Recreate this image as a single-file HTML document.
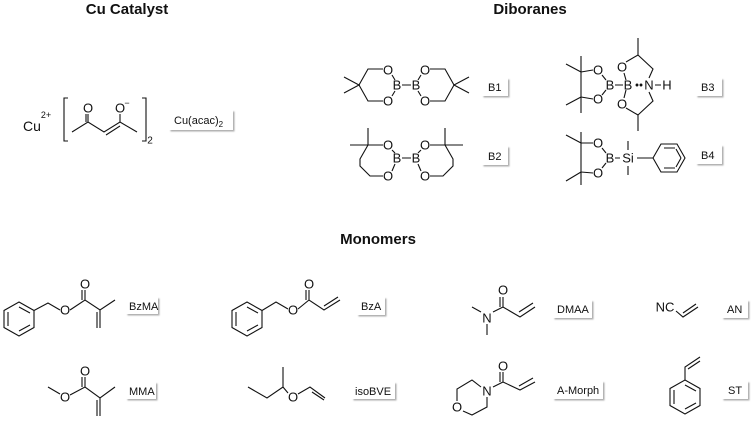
<!DOCTYPE html>
<html><head><meta charset="utf-8"><style>
html,body{margin:0;padding:0;background:#fff;}
svg{display:block;}
text{font-family:"Liberation Sans",sans-serif;fill:#111;}
.t{font-weight:bold;font-size:15px;}
.a{font-size:13px;text-anchor:middle;dominant-baseline:central;}
.l{font-size:11px;fill:#333;}
</style></head><body>
<svg width="755" height="423" viewBox="0 0 755 423" xmlns="http://www.w3.org/2000/svg">
<defs><filter id="sh" x="-10%" y="-10%" width="130%" height="140%"><feDropShadow dx="1.5" dy="1.5" stdDeviation="0.8" flood-color="#999" flood-opacity="0.8"/></filter></defs>
<text class="t" x="127" y="14" text-anchor="middle">Cu Catalyst</text>
<line x1="60" y1="24" x2="195" y2="24" stroke="#666" stroke-width="1.5" filter="url(#sh)"/>
<text class="t" x="530" y="14" text-anchor="middle">Diboranes</text>
<line x1="425" y1="23" x2="636" y2="23" stroke="#666" stroke-width="1.5" filter="url(#sh)"/>
<text class="t" x="378" y="244" text-anchor="middle">Monomers</text>
<line x1="187" y1="253" x2="561" y2="253" stroke="#666" stroke-width="1.5" filter="url(#sh)"/>

<g fill="#fff" filter="url(#sh)">
<rect x="169" y="110" width="64" height="20"/>
<rect x="482" y="78" width="26" height="18"/>
<rect x="482" y="146" width="26" height="19"/>
<rect x="696" y="78" width="26" height="18"/>
<rect x="696" y="145" width="26" height="19"/>
<rect x="126" y="297" width="32" height="17"/>
<rect x="357" y="297" width="28" height="18"/>
<rect x="553" y="300" width="39" height="18"/>
<rect x="722" y="300" width="26" height="18"/>
<rect x="126" y="382" width="30" height="17"/>
<rect x="352" y="382" width="43" height="17"/>
<rect x="553" y="381" width="50" height="18"/>
<rect x="722" y="381" width="26" height="18"/>
</g>
<g class="l">
<text x="174" y="124">Cu(acac)<tspan font-size="8" dy="3">2</tspan></text>
<text x="488" y="91">B1</text>
<text x="488" y="160">B2</text>
<text x="701" y="91">B3</text>
<text x="701" y="159">B4</text>
<text x="129" y="310">BzMA</text>
<text x="361" y="310">BzA</text>
<text x="557" y="313">DMAA</text>
<text x="727" y="313">AN</text>
<text x="129" y="395">MMA</text>
<text x="355" y="395">isoBVE</text>
<text x="557" y="394">A-Morph</text>
<text x="728" y="394">ST</text>
</g>

<g stroke="#111" stroke-width="1.1" fill="none">
<path d="M68 98 H64 V141 H68 M142 98 H146 V141 H142"/>
<path d="M72 132 L88 122 L104 132 L120 122 L137 132 M88 122 V114 M86 122 V114 M120 122 V114 M106 135 L120 126"/>
<path d="M344 77 L359 85 L344 93 M359 85 L368 69 L383 69 M359 85 L368 101 L383 101 M392 75 L395 80 M392 96 L395 91 M402 85 L411 85 M418 80 L421 75 M418 91 L421 96 M430 69 L445 69 L454 85 L469 77 M454 85 L469 93 M430 101 L445 101 L454 85"/>
<path d="M350 145 L383 145 M368 128 L368 145 L360 159 L360 166 L370 176 L383 176 M392 150 L395 153 M392 171 L395 164 M402 158 L411 158 M418 153 L421 150 M418 164 L421 171 M430 145 L463 145 M445 128 L445 145 L453 159 L453 166 L443 176 L430 176"/>
<path d="M581 56 L581 113 M566 64 L581 72 M566 105 L581 97 M581 72 L593 70 M581 97 L593 99 M602 75 L606 80 M602 95 L606 90 M615 85 L623 85 M626 80 L624 73 M626 90 L624 98 M626 62 L638 55 L638 38 M638 55 L653 69 L649 78 M626 108 L638 115 L638 131 M638 115 L653 101 L649 92 M655 85 L661 85"/>
<circle cx="637" cy="85" r="0.9" fill="#111"/><circle cx="641" cy="85" r="0.9" fill="#111"/>
<path d="M581 132 L581 185 M566 135 L581 143 M566 181 L581 172 M581 143 L593 143 M581 172 L593 173 M602 148 L606 153 M602 168 L606 163 M615 158 L620 158 M628 141 L628 150 M628 166 L628 175 M637 158 L653 158"/>
<path d="M653 158 L661 144 L677 144 L685 158 L677 172 L661 172 Z M664 148 L675 148 M664 168 L675 168"/>
<path d="M681 158 L676 149 M681 158 L676 167"/>
<path d="M19 302 L34 310.5 L34 327.5 L19 336 L4 327.5 L4 310.5 Z M8 312 L8 326 M19 331 L30 325 M19 307 L30 313"/>
<path d="M34 310.5 L48 303 L60 310 M70 310 L85 300 L100 310 L115 300 M85 300 V290 M82 300 V290 M100 310 V328 M97 312 V328"/>
<path d="M247 302 L262 310.5 L262 327.5 L247 336 L232 327.5 L232 310.5 Z M236 312 L236 326 M247 331 L258 325 M247 307 L258 313"/>
<path d="M262 310.5 L276 302 L288 309 M298 309 L309 300 L324 310 L340 300 M309 300 V290 M306 300 V290 M324 306 L338 297"/>
<path d="M48 387 L60 394 M70 395 L85 387 L100 398 L115 387 M85 387 V377 M82 387 V377 M100 398 V416 M97 400 V416"/>
<path d="M248 387 L267 398 L283 387 L288 393 M283 387 V367 M298 394 L310 387 L325 398 M312 392 L324 400"/>
<path d="M472 307 L481 312 M487 324 V335 M493 312 L503 307 L520 317 L535 307 M503 307 V297 M500 307 V297 M519 312 L533 303"/>
<path d="M676 311 L683 317 L698 307 M683 313 L696 304"/>
<path d="M481 387 L472 380 L457 389 L457 401 M463 411 L472 415 L487 407 L487 397 M493 387 L503 382 L520 390 L535 382 M503 382 V372 M500 382 V372 M519 386 L533 378"/>
<path d="M685 380 L700 388.5 L700 405.5 L685 414 L670 405.5 L670 388.5 Z M674 390 L674 404 M685 409 L696 403 M685 385 L696 391"/>
<path d="M685 380 L685 367 L700 357 M688 369 L700 361"/>
</g>

<g class="a">
<text x="32" y="126" font-size="14">Cu</text><text x="46" y="115" font-size="9">2+</text>
<text x="88" y="108">O</text><text x="120" y="108">O</text><text x="127" y="103" font-size="9">−</text>
<text x="150" y="141" font-size="10">2</text>
<text x="388" y="70">O</text><text x="388" y="101">O</text><text x="397" y="85">B</text><text x="416" y="85">B</text><text x="425" y="70">O</text><text x="425" y="101">O</text>
<text x="388" y="145">O</text><text x="388" y="176">O</text><text x="397" y="158">B</text><text x="416" y="158">B</text><text x="425" y="145">O</text><text x="425" y="176">O</text>
<text x="598" y="70">O</text><text x="598" y="99">O</text><text x="610" y="85">B</text><text x="628" y="85">B</text><text x="622" y="67">O</text><text x="622" y="104">O</text><text x="649" y="85">N</text><text x="667" y="85">H</text>
<text x="598" y="143">O</text><text x="598" y="173">O</text><text x="610" y="158">B</text><text x="628" y="158">Si</text>
<text x="65" y="310">O</text><text x="85" y="284">O</text>
<text x="293" y="310">O</text><text x="309" y="284">O</text>
<text x="65" y="397">O</text><text x="85" y="371">O</text>
<text x="293" y="397">O</text>
<text x="487" y="318">N</text><text x="503" y="290">O</text>
<text x="665" y="307">NC</text>
<text x="487" y="391">N</text><text x="503" y="366">O</text><text x="457" y="407">O</text>
</g>
</svg>
</body></html>
